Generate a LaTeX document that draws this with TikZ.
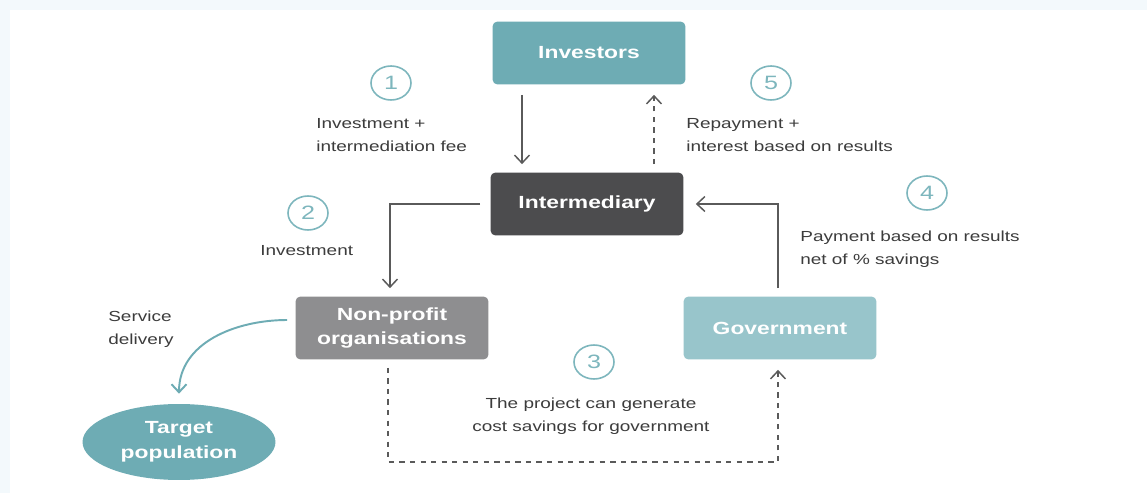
\documentclass[tikz,border=0pt]{standalone}
\usepackage{fontspec}
\setmainfont{Liberation Sans}[FakeStretch=1.3]
\usetikzlibrary{arrows.meta,shapes.geometric,calc}
\definecolor{teal}{HTML}{6EACB4}
\definecolor{lightteal}{HTML}{98C5CB}
\definecolor{darkbox}{HTML}{4C4C4E}
\definecolor{midbox}{HTML}{8E8E90}
\definecolor{ringcol}{HTML}{7DB6BD}
\definecolor{linecol}{HTML}{5A5A5A}
\definecolor{txtcol}{HTML}{3C3C3C}
\definecolor{bgcol}{HTML}{F3F9FC}
\tikzset{
    box/.style={rectangle, rounded corners=1mm, minimum width=3.86cm, minimum height=1.26cm,
        text=white, align=center, font=\bfseries\fontsize{10}{14}\selectfont},
    numring/.style={ellipse, draw=ringcol, line width=0.9pt, minimum width=0.8cm, minimum height=0.68cm,
        inner sep=0pt, text=ringcol, font=\fontsize{11}{12}\selectfont},
    lbl/.style={align=left, inner sep=0pt, text=txtcol, font=\fontsize{8.3}{13}\selectfont},
    arr/.style={draw=linecol, line width=0.85pt, -{Straight Barb[length=1.6mm,width=3mm]}},
}
\begin{document}
\begin{tikzpicture}[x=0.02cm, y=-0.02cm]
    % background
    \fill[bgcol] (0,0) rectangle (1147,493);
    \fill[white] (10,10) rectangle (1147,493);
    \useasboundingbox (0,0) rectangle (1147,493);

    % actors
    \node[box, fill=teal] (inv) at (589,53) {Investors};
    \node[box, fill=darkbox] (int) at (587,204) {Intermediary};
    \node[box, fill=midbox] (np) at (392,328) {Non-profit\\organisations};
    \node[box, fill=lightteal] (gov) at (780,328) {Government};
    \node[ellipse, fill=teal, minimum width=3.86cm, minimum height=1.52cm, text=white, align=center,
        font=\bfseries\fontsize{10}{14}\selectfont] (tp) at (179,442) {Target\\population};

    % steps
    \node[numring] (n1) at (391,83) {1};
    \node[numring] (n2) at (308,213) {2};
    \node[numring] (n3) at (594,362) {3};
    \node[numring] (n4) at (927,193) {4};
    \node[numring] (n5) at (771,83) {5};

    \node[lbl, anchor=north west] (l1) at (316,118) {Investment +\\intermediation fee};
    \node[lbl, anchor=north west] (l2) at (260,245) {Investment};
    \node[lbl, anchor=north, align=center] (l3) at (591,398) {The project can generate\\cost savings for government};
    \node[lbl, anchor=north west] (l4) at (800,231) {Payment based on results\\net of \% savings};
    \node[lbl, anchor=north west] (l5) at (686,118) {Repayment +\\interest based on results};
    \node[lbl, anchor=north west] (lsd) at (108,311) {Service\\delivery};

    % flows
    \draw[arr] ([shift={(-67,10)}]inv.south) -- ([shift={(-65,-8)}]int.north);
    \draw[arr, dashed] ([shift={(67,-8)}]int.north) -- ([shift={(65,10)}]inv.south);
    \draw[arr] ([xshift=-0.2cm]int.west) -| ([shift={(-2,-8)}]np.north);
    \draw[arr] ([shift={(-2,-8)}]gov.north) |- ([xshift=0.24cm]int.east);
    \draw[arr, dashed] ([shift={(-4,8)}]np.south) -- ++(0,94) -| ([shift={(-2,10)}]gov.south);
    \draw[arr, draw=teal, line width=1.1pt] ([shift={(-8,-8)}]np.west) to[out=180,in=90] ([yshift=0.2cm]tp.north);
\end{tikzpicture}
\end{document}
